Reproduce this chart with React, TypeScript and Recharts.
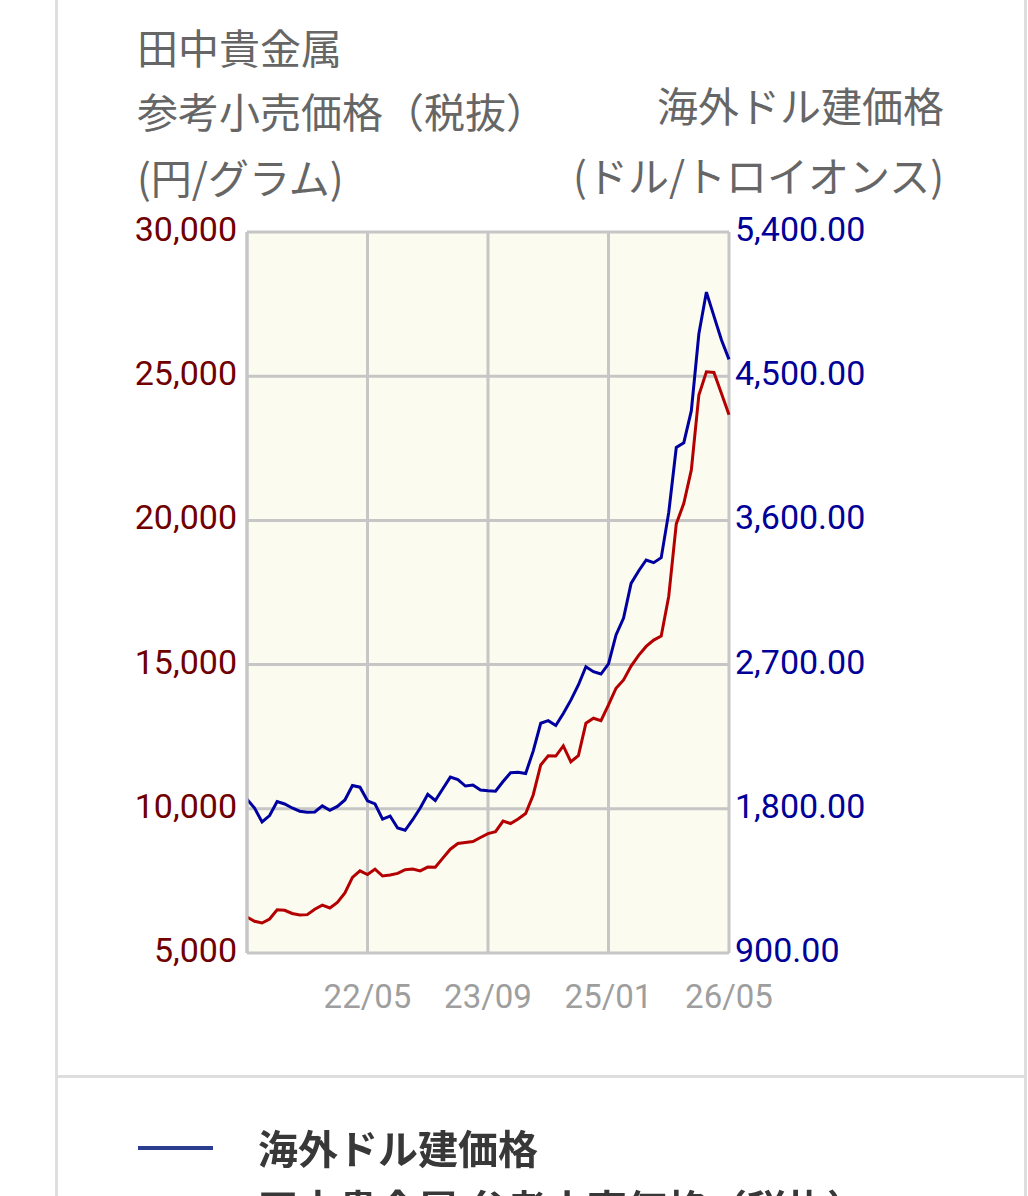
import React from 'react';
import { CartesianGrid, Line, LineChart, XAxis, YAxis } from 'recharts';

// monthly points, 2021/01 .. 2026/05
const MONTHS = [
  '21/01', '21/02', '21/03', '21/04', '21/05', '21/06', '21/07', '21/08', '21/09', '21/10', '21/11', '21/12',
  '22/01', '22/02', '22/03', '22/04', '22/05', '22/06', '22/07', '22/08', '22/09', '22/10', '22/11', '22/12',
  '23/01', '23/02', '23/03', '23/04', '23/05', '23/06', '23/07', '23/08', '23/09', '23/10', '23/11', '23/12',
  '24/01', '24/02', '24/03', '24/04', '24/05', '24/06', '24/07', '24/08', '24/09', '24/10', '24/11', '24/12',
  '25/01', '25/02', '25/03', '25/04', '25/05', '25/06', '25/07', '25/08', '25/09', '25/10', '25/11', '25/12',
  '26/01', '26/02', '26/03', '26/04', '26/05'
];

// 田中貴金属 参考小売価格（税抜） 円/グラム
const YEN_PER_GRAM = [
  6250, 6100, 6040, 6180, 6500, 6480, 6370, 6320, 6330, 6520, 6660, 6560,
  6750, 7080, 7620, 7850, 7720, 7910, 7670, 7705, 7760, 7890, 7910, 7845,
  7980, 7975, 8290, 8600, 8795, 8830, 8865, 9005, 9140, 9205, 9575, 9490,
  9645, 9835, 10480, 11520, 11840, 11830, 12180, 11630, 11840, 12965, 13140, 13055,
  13600, 14180, 14470, 14950, 15320, 15630, 15850, 15990, 17370, 19880, 20590, 21750,
  24350, 25150, 25130, 24400, 23660
];

// 海外ドル建価格 ドル/トロイオンス
const USD_PER_OZ = [
  1860, 1805, 1718, 1758, 1845, 1830, 1805, 1785, 1778, 1780, 1818, 1790,
  1815, 1855, 1945, 1935, 1850, 1830, 1736, 1755, 1680, 1666, 1732, 1805,
  1890, 1852, 1925, 1998, 1982, 1942, 1948, 1917, 1912, 1910, 1970, 2025,
  2028, 2020, 2160, 2334, 2350, 2320, 2395, 2478, 2573, 2687, 2656, 2641,
  2704, 2885, 2990, 3207, 3284, 3353, 3336, 3367, 3650, 4055, 4085, 4285,
  4765, 5025, 4875, 4726, 4605
];

const X_TICKS = ['22/05', '23/09', '25/01', '26/05'];
const YEN_TICKS = [5000, 10000, 15000, 20000, 25000, 30000];
const USD_TICKS = [900, 1800, 2700, 3600, 4500, 5400];

const COLORS = {
  yen: '#b40000',
  usd: '#0000a0',
  yenText: '#700000',
  usdText: '#000099',
  grid: '#c6c6c6',
  plotBg: '#fbfbef',
  title: '#666666',
  xText: '#9e9e9e',
  card: '#dedede'
};

const data = MONTHS.map((month, i) => ({
  month,
  yen: YEN_PER_GRAM[i],
  usd: USD_PER_OZ[i]
}));

const CJK = "'Noto Sans CJK JP', 'Noto Sans', sans-serif";
const NUM = "Roboto, 'Noto Sans', sans-serif";

function TitleLine({ text, top, left, right }: { text: string; top: number; left?: number; right?: number }) {
  return (
    <div
      style={{
        position: 'absolute',
        top,
        left,
        right,
        fontFamily: CJK,
        fontSize: 41,
        lineHeight: '41px',
        color: COLORS.title,
        whiteSpace: 'nowrap',
        textAlign: right !== undefined ? 'right' : 'left'
      }}
    >
      {text}
    </div>
  );
}

function LegendRow({ color, label, y }: { color: string; label: string; y: number }) {
  return (
    <>
      <div style={{ position: 'absolute', left: 138, top: y - 2, width: 75, height: 4, background: color }} />
      <div
        style={{
          position: 'absolute',
          left: 258,
          top: y - 21,
          fontFamily: CJK,
          fontSize: 40,
          lineHeight: '40px',
          fontWeight: 700,
          color: '#383838',
          whiteSpace: 'nowrap',
          filter: 'blur(0.5px)'
        }}
      >
        {label}
      </div>
    </>
  );
}

export default function App() {
  return (
    <div
      style={{
        position: 'absolute',
        left: 0,
        top: 0,
        width: 1028,
        height: 1196,
        overflow: 'hidden',
        background: '#ffffff'
      }}
    >
      <div
        style={{
          position: 'absolute',
          left: 55,
          top: -20,
          width: 972,
          height: 1098,
          boxSizing: 'border-box',
          border: `3px solid ${COLORS.card}`
        }}
      />
      <div
        style={{
          position: 'absolute',
          left: 55,
          top: 1075,
          width: 972,
          height: 200,
          boxSizing: 'border-box',
          border: `3px solid ${COLORS.card}`
        }}
      />

      <TitleLine text="田中貴金属" top={26} left={137} />
      <TitleLine text="参考小売価格（税抜）" top={90} left={137} />
      <TitleLine text="(円/グラム)" top={156} left={137} />
      <TitleLine text="海外ドル建価格" top={84} right={1028 - 944} />
      <TitleLine text="(ドル/トロイオンス)" top={154} right={1028 - 944} />

      <div style={{ position: 'absolute', left: 0, top: 0 }}>
        <LineChart
          width={1028}
          height={1040}
          data={data}
          margin={{ top: 232, right: 149, bottom: 27, left: 137 }}
        >
          <CartesianGrid
            yAxisId="left"
            stroke={COLORS.grid}
            strokeWidth={3}
            fill={COLORS.plotBg}
            fillOpacity={1}
          />
          <XAxis
            dataKey="month"
            scale="point"
            ticks={X_TICKS}
            interval={0}
            height={60}
            tickLine={false}
            axisLine={false}
            tickMargin={26}
            tick={{ fill: COLORS.xText, fontSize: 33, fontFamily: NUM }}
          />
          <YAxis
            yAxisId="left"
            orientation="left"
            width={110}
            domain={[5000, 30000]}
            ticks={YEN_TICKS}
            interval={0}
            tickLine={false}
            axisLine={{ stroke: COLORS.grid, strokeWidth: 3 }}
            tickMargin={4}
            tickFormatter={(v: number) => v.toLocaleString('en-US')}
            tick={{ fill: COLORS.yenText, fontSize: 34, fontFamily: NUM, dy: -3 }}
          />
          <YAxis
            yAxisId="right"
            orientation="right"
            width={150}
            domain={[900, 5400]}
            ticks={USD_TICKS}
            interval={0}
            tickLine={false}
            axisLine={false}
            tickMargin={0}
            tickFormatter={(v: number) =>
              v.toLocaleString('en-US', { minimumFractionDigits: 2, maximumFractionDigits: 2 })
            }
            tick={{ fill: COLORS.usdText, fontSize: 34, fontFamily: NUM, dy: -3 }}
          />
          <Line
            yAxisId="left"
            type="linear"
            dataKey="yen"
            stroke={COLORS.yen}
            strokeWidth={3}
            dot={false}
            isAnimationActive={false}
          />
          <Line
            yAxisId="right"
            type="linear"
            dataKey="usd"
            stroke={COLORS.usd}
            strokeWidth={3}
            dot={false}
            isAnimationActive={false}
          />
        </LineChart>
      </div>

      <LegendRow color="#2b3d8f" label="海外ドル建価格" y={1148} />
      <LegendRow color={COLORS.yen} label="田中貴金属 参考小売価格（税抜）" y={1208} />
    </div>
  );
}
